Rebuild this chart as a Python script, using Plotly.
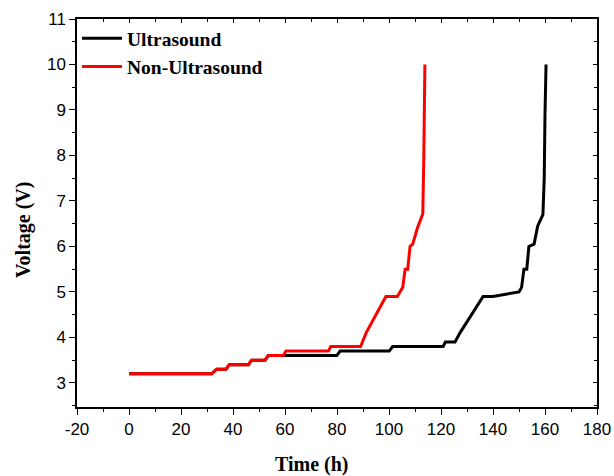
import plotly.graph_objects as go

# Ultrasound (black)
us_t = [0, 31.8, 33.7, 37.3, 38.6, 45.9, 47.2, 52.3, 53.6, 79.9, 81.2, 100.1, 101.4,
        120.8, 121.7, 125.4, 127.3, 136.2, 140, 150, 151, 151.9, 153, 153.8, 155.8,
        156.8, 157.2, 159.2, 159.7, 160.0, 160.4]
us_v = [3.2, 3.2, 3.3, 3.3, 3.4, 3.4, 3.5, 3.5, 3.6, 3.6, 3.7, 3.7, 3.8,
        3.8, 3.9, 3.9, 4.1, 4.9, 4.9, 5.0, 5.1, 5.5, 5.5, 6.0, 6.05,
        6.4, 6.45, 6.7, 7.5, 8.9, 10.0]

# Non-Ultrasound (red)
nu_t = [0, 31.8, 33.7, 37.3, 38.6, 45.9, 47.2, 52.3, 53.6, 59.3, 60.4, 76.7, 77.6,
        89.1, 91.2, 98.8, 103.2, 105.3, 106.2, 107.2, 108.1, 109.1, 110.9, 112.0,
        113.0, 113.4, 113.8]
nu_v = [3.2, 3.2, 3.3, 3.3, 3.4, 3.4, 3.5, 3.5, 3.6, 3.6, 3.7, 3.7, 3.8,
        3.8, 4.1, 4.9, 4.9, 5.1, 5.5, 5.5, 6.0, 6.05, 6.4, 6.55,
        6.72, 8.0, 10.0]

x_ticks = [-20, 0, 20, 40, 60, 80, 100, 120, 140, 160, 180]
x_tick_labels = ["-20", "0", "20", "40", "60", "80", "100", "120", "140", "160", "180"]
y_ticks = [3, 4, 5, 6, 7, 8, 9, 10, 11]
y_tick_labels = ["3", "4", "5", "6", "7", "8", "9", "10", "11"]

x_range = [-20, 180]
y_range = [2.47, 11]

fig = go.Figure()
fig.add_trace(go.Scatter(x=us_t, y=us_v, mode="lines", name="Ultrasound",
                         line=dict(color="black", width=3)))
fig.add_trace(go.Scatter(x=nu_t, y=nu_v, mode="lines", name="Non-Ultrasound",
                         line=dict(color="red", width=3)))
# invisible trace to activate mirrored axes
fig.add_trace(go.Scatter(x=[0], y=[5], xaxis="x2", yaxis="y2", mode="markers",
                         marker=dict(opacity=0), showlegend=False, hoverinfo="skip"))

tickfont = dict(family="Liberation Sans, Arial", size=17, color="black")
titlefont = dict(family="Liberation Serif, Times New Roman", size=20, color="black",
                 weight="bold")

fig.update_layout(
    width=614, height=476,
    margin=dict(l=77, r=17, t=19, b=69),
    paper_bgcolor="white", plot_bgcolor="white",
    showlegend=True,
    legend=dict(x=0.0, y=1.0, xanchor="left", yanchor="top",
                bgcolor="rgba(0,0,0,0)", itemwidth=40,
                font=dict(family="Liberation Serif, Times New Roman", size=19.5,
                          color="black", weight="bold"),
                tracegroupgap=0),
    xaxis=dict(range=x_range, tickvals=x_ticks, ticktext=x_tick_labels,
               showgrid=False, zeroline=False, automargin=False,
               showline=True, linecolor="black", linewidth=1.5,
               ticks="outside", ticklen=6, tickwidth=1.2, tickcolor="black",
               tickfont=tickfont,
               minor=dict(ticks="outside", ticklen=3, dtick=10, tick0=0,
                          tickcolor="black", tickwidth=1.2)),
    yaxis=dict(range=y_range, tickvals=y_ticks, ticktext=y_tick_labels,
               showgrid=False, zeroline=False, automargin=False,
               showline=True, linecolor="black", linewidth=1.5,
               ticks="outside", ticklen=6, tickwidth=1.2, tickcolor="black",
               tickfont=tickfont,
               minor=dict(ticks="outside", ticklen=3, dtick=0.5, tick0=0,
                          tickcolor="black", tickwidth=1.2)),
    xaxis2=dict(range=x_range, overlaying="x", side="top", dtick=20, tick0=0,
                automargin=False,
                showgrid=False, zeroline=False, showline=True, linecolor="black",
                linewidth=1.5, ticks="inside", ticklen=4, tickwidth=1, tickcolor="black",
                showticklabels=False,
                minor=dict(ticks="inside", ticklen=3, dtick=10, tick0=0,
                           tickcolor="black")),
    yaxis2=dict(range=y_range, overlaying="y", side="right", dtick=1, tick0=0,
                automargin=False,
                showgrid=False, zeroline=False, showline=True, linecolor="black",
                linewidth=1.5, ticks="inside", ticklen=4, tickwidth=1, tickcolor="black",
                showticklabels=False,
                minor=dict(ticks="inside", ticklen=3, dtick=0.5, tick0=0,
                           tickcolor="black")),
    annotations=[
        dict(text="Time (h)", xref="paper", yref="paper", x=0.452, y=-0.147,
             xanchor="center", yanchor="middle", showarrow=False, font=titlefont),
        dict(text="Voltage (V)", xref="paper", yref="paper", x=-0.104, y=0.456,
             xanchor="center", yanchor="middle", showarrow=False, textangle=-90,
             font=titlefont),
    ],
)

fig.write_html("out.html")
